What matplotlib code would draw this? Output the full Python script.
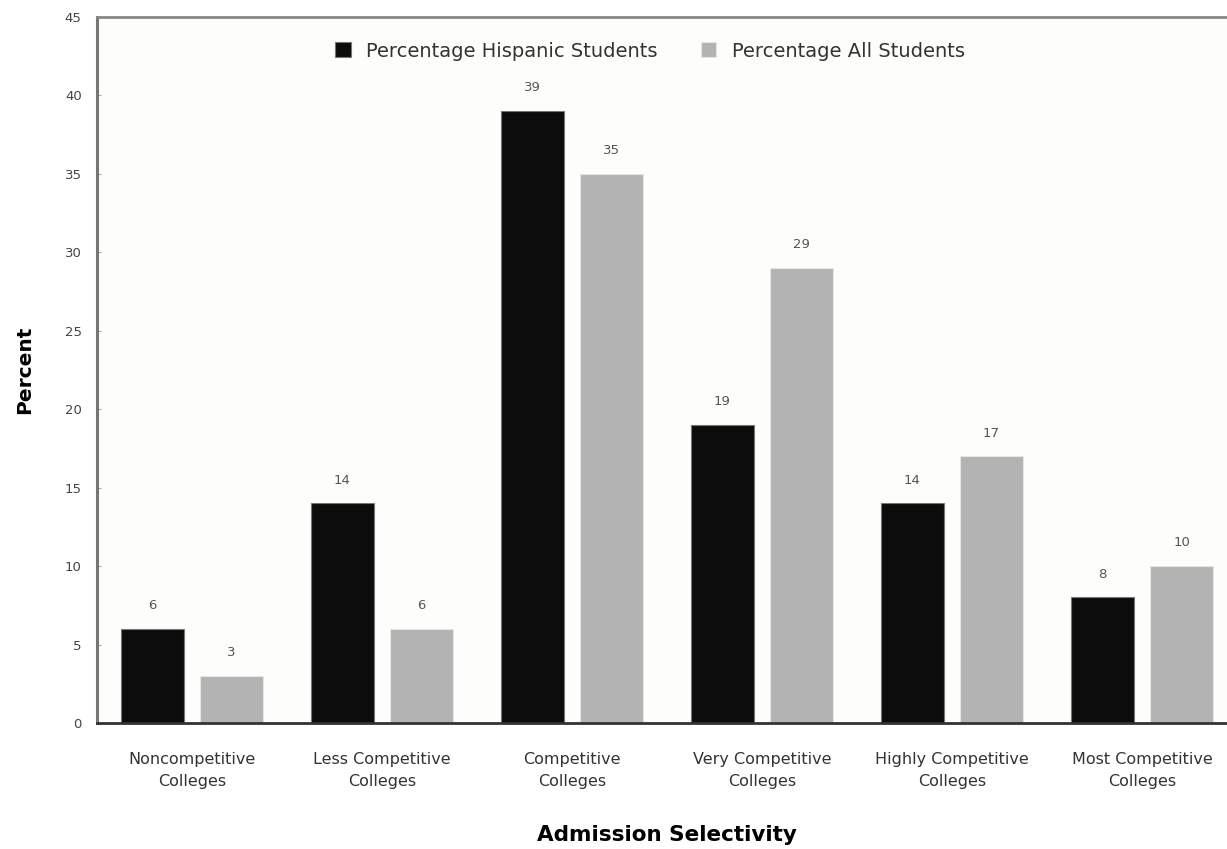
import numpy as np
import matplotlib.pyplot as plt

categories = ["Noncompetitive\nColleges", "Less Competitive\nColleges", "Competitive\nColleges",
              "Very Competitive\nColleges", "Highly Competitive\nColleges", "Most Competitive\nColleges"]
hispanic = [6, 14, 39, 19, 14, 8]
all_students = [3, 6, 35, 29, 17, 10]
yticks = [0, 5, 10, 15, 20, 25, 30, 35, 40, 45]

plt.rcParams['font.family'] = ['DejaVu Sans']

fig = plt.figure(figsize=(12.27, 8.49), dpi=100)
# right edge goes past the figure, the original is cropped
ax = fig.add_axes([97/1227, 1 - 723/849, 1140/1227, 706/849])

x = np.arange(len(categories))
w = 0.33
off = 0.208
b1 = ax.bar(x - off, hispanic, w, color="#0c0c0c", edgecolor="#777777", linewidth=0.8,
            label="Percentage Hispanic Students")
b2 = ax.bar(x + off, all_students, w, color="#b3b3b3", edgecolor="#e6e6e6", linewidth=0.8,
            label="Percentage All Students")

for bars, vals in [(b1, hispanic), (b2, all_students)]:
    for r, v in zip(bars, vals):
        ax.annotate(str(v), (r.get_x() + r.get_width() / 2, v), xytext=(0, 12),
                    textcoords="offset points", ha="center", va="bottom",
                    fontsize=9.5, color="#555555")

ax.set_xlim(-0.5, len(categories) - 0.5)
ax.set_ylim(0, 45)
ax.set_yticks(yticks)
ax.set_xticks(x)
ax.set_xticklabels(categories, fontsize=11.5, color="#333333", linespacing=1.55)
ax.tick_params(axis="x", length=0, pad=21)
ax.tick_params(axis="y", direction="in", length=3, color="#aaaaaa", labelsize=9.5,
               labelcolor="#444444", pad=11)
ax.set_facecolor("#fdfdfb")

ax.spines["left"].set_color("#777777")
ax.spines["left"].set_linewidth(2.2)
ax.spines["top"].set_color("#888888")
ax.spines["top"].set_linewidth(2.0)
ax.spines["bottom"].set_color("#333333")
ax.spines["bottom"].set_linewidth(2.0)
ax.spines["right"].set_visible(False)

ax.set_ylabel("Percent", fontsize=14.5, fontweight="bold", labelpad=22)
ax.set_xlabel("Admission Selectivity", fontsize=15.5, fontweight="bold", labelpad=26)

ax.legend(loc="upper center", bbox_to_anchor=(553/1140, 0.99), ncol=2, frameon=False,
          fontsize=14, handlelength=0.8, handleheight=0.8, columnspacing=2.2,
          handletextpad=0.8, labelcolor="#333333")

fig.savefig("out.png", dpi=100, facecolor="white")
